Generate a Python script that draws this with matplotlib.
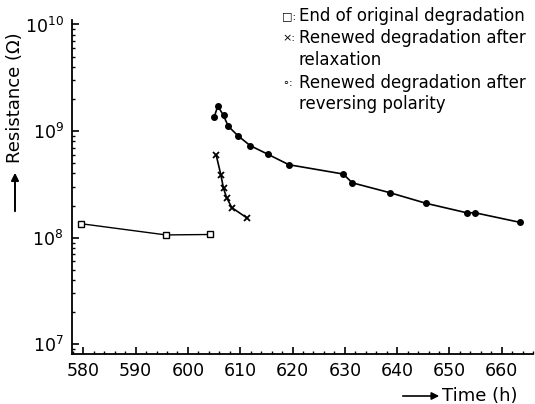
import numpy as np
import matplotlib
matplotlib.use("Agg")
import matplotlib.pyplot as plt
from matplotlib.ticker import MultipleLocator, LogLocator, NullFormatter

# end of original degradation (squares)
t_orig = [579.6, 595.8, 604.3]
r_orig = [1.35e8, 1.06e8, 1.07e8]

# renewed degradation after relaxation (crosses)
t_relax = [605.4, 606.3, 606.8, 607.4, 608.4, 611.2]
r_relax = [5.96e8, 3.87e8, 2.90e8, 2.37e8, 1.91e8, 1.54e8]

# renewed degradation after reversing polarity (dots)
t_rev = [605.05, 605.7, 606.8, 607.7, 609.6, 611.9, 615.3, 619.3, 629.7, 631.4,
         638.6, 645.5, 653.3, 654.9, 663.5]
r_rev = [1.36e9, 1.72e9, 1.40e9, 1.11e9, 9.0e8, 7.3e8, 6.05e8, 4.83e8, 3.95e8,
         3.27e8, 2.64e8, 2.10e8, 1.71e8, 1.71e8, 1.39e8]

x_ticks = [580, 590, 600, 610, 620, 630, 640, 650, 660]

legend_marks = ["\u25a1:", "\u00d7:", "", "\u2218:", ""]
legend_text = ["End of original degradation",
               "Renewed degradation after",
               "relaxation",
               "Renewed degradation after",
               "reversing polarity"]
legend_y = [16, 38, 60, 83, 104]   # pixel rows from the top

plt.rcParams['font.family'] = ['DejaVu Sans']
fig = plt.figure(figsize=(5.35, 4.04), dpi=100)
ax = fig.add_axes([0.1346, 0.124, 0.862, 0.826])

ax.plot(t_orig, r_orig, color='black', lw=1.0, marker='s', ms=4,
        mfc='white', mec='black', mew=1.0)
ax.plot(t_relax, r_relax, color='black', lw=1.2, marker='x', ms=5, mew=1.3)
ax.plot(t_rev, r_rev, color='black', lw=1.2, marker='o', ms=4)

ax.set_yscale('log')
ax.set_ylim(10**6.909, 10**10.04)
ax.set_xlim(577.84, 666.0)

ax.set_xticks(x_ticks)
ax.xaxis.set_minor_locator(MultipleLocator(2))
ax.yaxis.set_major_locator(LogLocator(base=10, numticks=10))
ax.yaxis.set_minor_locator(LogLocator(base=10, subs=np.arange(2, 10), numticks=20))
ax.yaxis.set_minor_formatter(NullFormatter())

ax.tick_params(which='major', direction='in', length=5, width=1.2,
               labelsize=12.5, pad=6)
ax.tick_params(which='minor', direction='in', length=2.5, width=1.0)

for s in ['top', 'right']:
    ax.spines[s].set_visible(False)
for s in ['left', 'bottom']:
    ax.spines[s].set_linewidth(1.3)

# legend as plain text block
W, H = 535.0, 404.0
for m, txt, py in zip(legend_marks, legend_text, legend_y):
    fy = 1 - py / H
    if m:
        fig.text(282 / W, fy, m, fontsize=8, va='center', ha='left')
    fig.text(299 / W, fy, txt, fontsize=12, va='center', ha='left')

# y label with arrow
fig.text(15 / W, 1 - 98 / H, "Resistance (\u03a9)", rotation=90, fontsize=13,
         va='center', ha='center')
fig.add_artist(matplotlib.patches.FancyArrowPatch(
    (15 / W, 1 - 214 / H), (15 / W, 1 - 170 / H), transform=fig.transFigure,
    arrowstyle='-|>', mutation_scale=11, color='black', lw=1.4))

# x label with arrow
fig.text(442 / W, 1 - 396 / H, "Time (h)", fontsize=13, va='center', ha='left')
fig.add_artist(matplotlib.patches.FancyArrowPatch(
    (400 / W, 1 - 396 / H), (442 / W, 1 - 396 / H), transform=fig.transFigure,
    arrowstyle='-|>', mutation_scale=11, color='black', lw=1.2))

fig.savefig("out.png", dpi=100)
